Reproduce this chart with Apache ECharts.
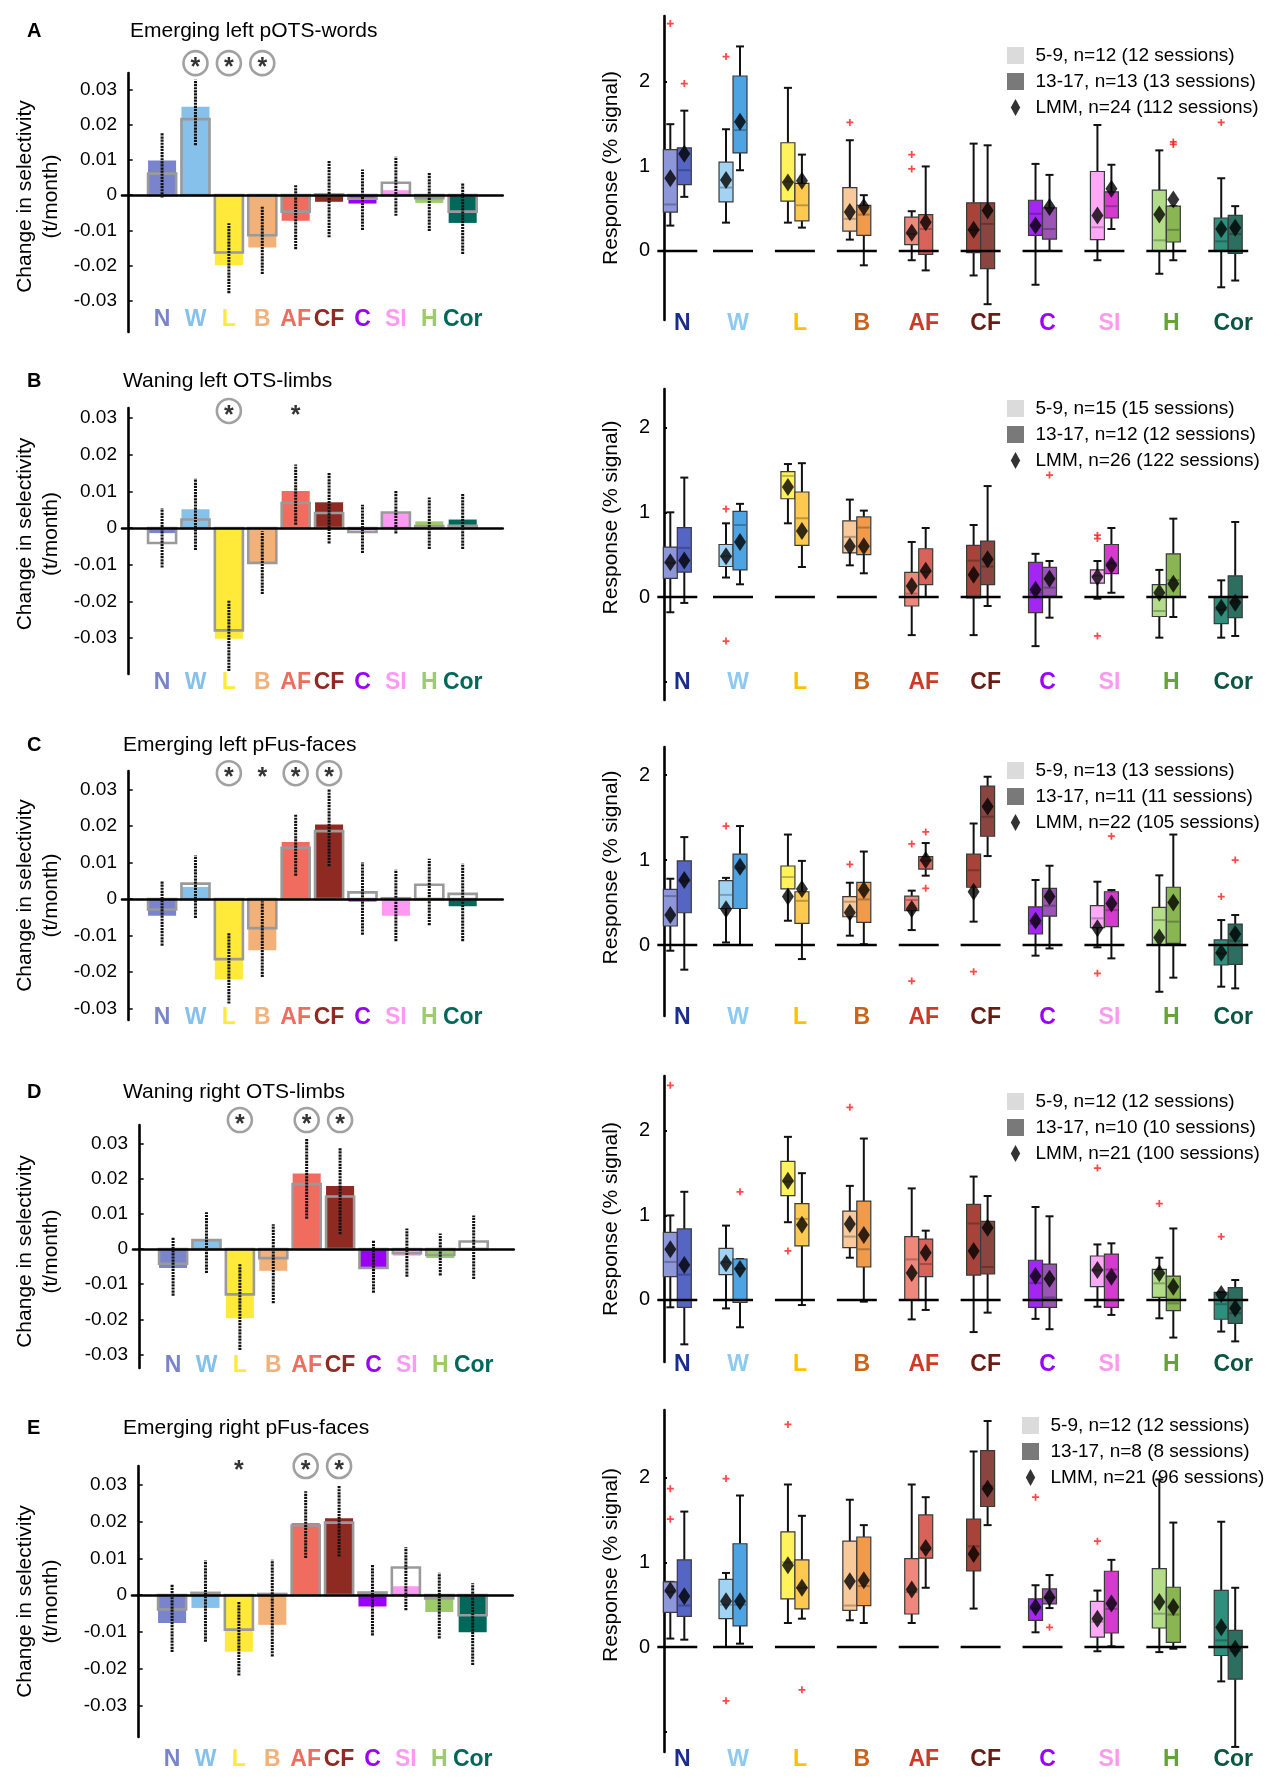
<!DOCTYPE html>
<html>
<head>
<meta charset="utf-8">
<script src="https://cdn.jsdelivr.net/npm/echarts/dist/echarts.min.js"></script>
<style>
html,body{margin:0;padding:0;background:#fff;}
.row{position:absolute;left:0;top:0;width:1280px;height:1778px;}
</style>
</head>
<body>
<div id="r0" class="row"></div>
<div id="r1" class="row"></div>
<div id="r2" class="row"></div>
<div id="r3" class="row"></div>
<div id="r4" class="row"></div>
<script>
// ---------------- DATA ----------------
const categories = ['N','W','L','B','AF','CF','C','SI','H','Cor'];
const selectivityTicks = [-0.03,-0.02,-0.01,0,0.01,0.02,0.03];
const responseTicks = [-1,0,1,2];
const responseLabels = [0,1,2];

const titles = ['Emerging left pOTS-words','Waning left OTS-limbs','Emerging left pFus-faces','Waning right OTS-limbs','Emerging right pFus-faces'];
const letters = ['A','B','C','D','E'];

// left: change in selectivity (t/month)
const fillA    = [0.0098, 0.0251, -0.0199, -0.0149, -0.0073, -0.0019, -0.0024, 0.0014, -0.0022, -0.0079];
const outlineA = [0.0061, 0.0216, -0.0163, -0.0114, -0.0047, 0.0002, -0.0010, 0.0035, -0.0009, -0.0047];
const dotLoA   = [-0.0007, 0.0142, -0.0279, -0.0224, -0.0154, -0.0120, -0.0099, -0.0059, -0.0102, -0.0167];
const dotHiA   = [0.0177, 0.0328, -0.0080, -0.0031, 0.0028, 0.0097, 0.0073, 0.0109, 0.0063, 0.0033];
const sigA     = [0,2,2,2,0,0,0,0,0,0];

const fillB    = [-0.0014, 0.0051, -0.0302, -0.0097, 0.0101, 0.0070, -0.0006, 0.0042, 0.0018, 0.0023];
const outlineB = [-0.0041, 0.0023, -0.0279, -0.0095, 0.0068, 0.0041, -0.0011, 0.0042, 0.0005, 0.0006];
const dotLoB   = [-0.0108, -0.0060, -0.0390, -0.0180, 0.0009, -0.0042, -0.0068, -0.0015, -0.0057, -0.0057];
const dotHiB   = [0.0054, 0.0135, -0.0198, -0.0009, 0.0173, 0.0150, 0.0063, 0.0102, 0.0083, 0.0095];
const sigB     = [0,0,2,0,1,0,0,0,0,0];

const fillC    = [-0.0046, 0.0033, -0.0221, -0.0141, 0.0156, 0.0204, -0.0007, -0.0046, 0.0003, -0.0020];
const outlineC = [-0.0029, 0.0042, -0.0165, -0.0080, 0.0140, 0.0186, 0.0018, 0.0002, 0.0039, 0.0014];
const dotLoC   = [-0.0128, -0.0052, -0.0287, -0.0214, 0.0064, 0.0090, -0.0098, -0.0116, -0.0072, -0.0116];
const dotHiC   = [0.0048, 0.0119, -0.0091, -0.0006, 0.0231, 0.0300, 0.0100, 0.0080, 0.0110, 0.0097];
const sigC     = [0,0,2,1,2,2,0,0,0,0];

const fillD    = [-0.0054, 0.0025, -0.0197, -0.0062, 0.0214, 0.0179, -0.0051, -0.0019, -0.0026, 0.0003];
const outlineD = [-0.0042, 0.0025, -0.0129, -0.0026, 0.0184, 0.0149, -0.0054, -0.0012, -0.0017, 0.0021];
const dotLoD   = [-0.0133, -0.0068, -0.0287, -0.0154, 0.0086, 0.0042, -0.0124, -0.0079, -0.0075, -0.0085];
const dotHiD   = [0.0032, 0.0104, -0.0042, 0.0070, 0.0314, 0.0288, 0.0025, 0.0058, 0.0044, 0.0095];
const sigD     = [0,0,2,0,2,2,0,0,0,0];

const fillE    = [-0.0076, -0.0035, -0.0154, -0.0081, 0.0196, 0.0209, -0.0031, 0.0024, -0.0046, -0.0101];
const outlineE = [-0.0039, 0.0006, -0.0094, 0.0003, 0.0189, 0.0197, 0.0007, 0.0075, -0.0009, -0.0055];
const dotLoE   = [-0.0155, -0.0127, -0.0219, -0.0167, 0.0101, 0.0105, -0.0110, -0.0041, -0.0118, -0.0190];
const dotHiE   = [0.0028, 0.0094, -0.0018, 0.0096, 0.0282, 0.0298, 0.0083, 0.0130, 0.0061, 0.0032];
const sigE     = [0,0,1,0,2,2,0,0,0,0];

// right: response (% signal) boxes [low whisker, q1, median, q3, high whisker]
const boxYoungA = [[0.30,0.46,0.55,1.20,1.50],[0.335,0.58,0.75,1.05,1.44],[0.335,0.59,0.82,1.28,1.93],[0.134,0.235,0.38,0.75,1.31],[-0.11,0.075,0.20,0.40,0.47],[-0.29,-0.02,0.25,0.57,1.27],[-0.40,0.185,0.44,0.60,1.03],[-0.11,0.134,0.28,0.94,1.49],[-0.27,0.0,0.126,0.72,1.19],[-0.43,0.0,0.114,0.39,0.86]];
const boxTeenA  = [[0.64,0.785,0.955,1.22,1.66],[0.955,1.16,1.43,2.07,2.42],[0.276,0.355,0.54,0.80,1.14],[-0.17,0.185,0.43,0.54,0.66],[-0.23,-0.04,0.26,0.43,1.0],[-0.63,-0.21,0.32,0.57,1.25],[0.0,0.14,0.26,0.51,0.90],[0.26,0.39,0.53,0.70,1.02],[-0.11,0.106,0.25,0.53,0.53],[-0.35,-0.03,0.20,0.42,0.53]];
const lmmYoungA = [0.86,0.84,0.81,0.46,0.216,0.25,0.30,0.42,0.43,0.26];
const lmmTeenA  = [1.15,1.53,0.83,0.52,0.34,0.48,0.52,0.735,0.61,0.275];
const outliersA = [[0,0,2.69],[0,1,1.98],[1,0,2.30],[3,0,1.52],[4,0,1.14],[4,0,0.97],[8,1,1.29],[8,1,1.26],[9,0,1.52]];

const boxYoungB = [[-0.18,0.22,0.40,0.59,1.0],[0.23,0.36,0.48,0.62,0.87],[0.87,1.16,1.43,1.48,1.57],[0.374,0.52,0.71,0.90,1.15],[-0.45,-0.106,0.04,0.29,0.65],[-0.45,-0.01,0.43,0.61,0.85],[-0.58,-0.185,0.05,0.41,0.51],[-0.02,0.165,0.25,0.32,0.425],[-0.48,-0.23,-0.165,0.146,0.32],[-0.48,-0.315,-0.15,0.0,0.197]];
const boxTeenB  = [[-0.07,0.295,0.58,0.82,1.41],[0.15,0.32,0.85,1.01,1.10],[0.354,0.61,0.93,1.24,1.58],[0.28,0.50,0.82,0.945,1.02],[0.0,0.146,0.295,0.57,0.815],[-0.106,0.146,0.36,0.66,1.31],[-0.244,0.008,0.11,0.35,0.425],[0.05,0.276,0.40,0.62,0.815],[-0.236,0.0,0.2,0.51,0.925],[-0.46,-0.244,-0.05,0.25,0.886]];
const lmmYoungB = [0.41,0.48,1.30,0.60,0.13,0.264,0.087,0.236,0.05,-0.126];
const lmmTeenB  = [0.43,0.65,0.78,0.60,0.31,0.445,0.217,0.374,0.157,-0.067];
const outliersB = [[1,0,1.04],[1,0,-0.52],[6,1,1.44],[7,0,0.73],[7,0,0.69],[7,0,-0.46]];

const boxYoungC = [[-0.067,0.224,0.576,0.655,0.78],[0.03,0.43,0.59,0.757,0.79],[0.286,0.66,0.80,0.93,1.30],[0.11,0.333,0.51,0.57,0.733],[0.176,0.404,0.53,0.576,0.64],[0.275,0.68,0.88,1.07,1.43],[-0.125,0.13,0.25,0.45,0.765],[-0.027,0.204,0.314,0.463,0.745],[-0.55,0.0,0.294,0.443,0.82],[-0.49,-0.235,-0.1,0.06,0.294]];
const boxTeenC  = [[-0.29,0.38,0.75,0.99,1.27],[0.0,0.43,0.9,1.07,1.40],[-0.165,0.255,0.52,0.627,0.99],[0.01,0.267,0.537,0.737,1.10],[0.816,0.894,0.99,1.04,1.20],[1.047,1.28,1.51,1.87,1.98],[-0.04,0.34,0.463,0.667,0.933],[-0.157,0.216,0.41,0.627,0.647],[-0.384,0.02,0.275,0.68,1.30],[-0.51,-0.227,0.05,0.247,0.353]];
const lmmYoungC = [0.353,0.42,0.57,0.384,0.424,0.627,0.286,0.196,0.09,-0.09];
const lmmTeenC  = [0.765,0.92,0.66,0.647,1.0,1.63,0.57,0.49,0.50,0.13];
const outliersC = [[1,0,1.40],[3,0,0.95],[4,0,1.19],[4,0,-0.424],[4,1,1.33],[4,1,0.667],[5,0,-0.314],[7,0,-0.333],[7,1,1.28],[9,0,0.57],[9,1,1.0]];

const boxYoungD = [[-0.087,0.276,0.45,0.80,1.0],[-0.1,0.30,0.45,0.61,0.88],[0.92,1.235,1.40,1.64,1.93],[0.5,0.62,0.75,1.05,1.35],[-0.23,0.0,0.48,0.75,1.32],[-0.38,0.295,0.905,1.13,1.46],[-0.224,-0.087,0.2,0.47,1.10],[-0.08,0.157,0.35,0.52,0.657],[-0.217,0.03,0.197,0.362,0.50],[-0.374,-0.228,-0.05,0.09,0.09]];
const boxTeenD  = [[-0.525,-0.087,0.3,0.84,1.28],[-0.323,-0.03,0.375,0.485,0.485],[-0.06,0.64,0.96,1.14,1.50],[-0.02,0.39,0.60,1.17,1.91],[-0.118,0.276,0.425,0.72,0.82],[-0.15,0.307,0.39,0.93,1.23],[-0.346,-0.087,0.03,0.425,0.99],[-0.177,-0.087,0.36,0.543,0.67],[-0.445,-0.126,-0.04,0.283,0.846],[-0.49,-0.276,-0.157,0.146,0.236]];
const lmmYoungD = [0.60,0.434,1.41,0.90,0.32,0.58,0.283,0.354,0.315,0.071];
const lmmTeenD  = [0.414,0.367,0.89,0.77,0.56,0.854,0.25,0.276,0.157,-0.098];
const outliersD = [[0,0,2.54],[1,1,1.28],[2,0,0.58],[3,0,2.28],[7,0,1.56],[8,0,1.14],[9,0,0.75]];

const boxYoungE = [[0.1,0.41,0.65,0.77,0.77],[0.0,0.335,0.5,0.80,0.875],[0.284,0.568,1.0,1.36,1.92],[0.316,0.434,0.49,1.25,1.74],[0.284,0.39,0.65,1.045,1.92],[0.454,0.90,1.19,1.51,2.31],[0.174,0.316,0.45,0.57,0.73],[-0.05,0.118,0.3,0.54,0.667],[-0.06,0.225,0.394,0.927,1.98],[-0.406,-0.1,0.079,0.67,1.48]];
const boxTeenE  = [[0.087,0.363,0.49,1.03,1.60],[0.04,0.25,0.50,1.22,1.79],[0.335,0.45,0.7,1.03,1.55],[0.284,0.49,0.72,1.30,1.44],[0.70,1.05,1.15,1.56,1.77],[1.44,1.66,1.9,2.32,2.67],[0.46,0.51,0.58,0.686,0.85],[0.008,0.166,0.45,0.895,1.03],[-0.02,0.055,0.383,0.706,1.47],[-1.18,-0.38,-0.05,0.197,0.70]];
const lmmYoungE = [0.667,0.54,0.966,0.777,0.68,1.10,0.473,0.335,0.533,0.233];
const lmmTeenE  = [0.60,0.54,0.70,0.79,1.17,1.87,0.588,0.513,0.473,-0.02];
const outliersE = [[0,0,1.87],[0,0,1.51],[1,0,1.99],[1,0,-0.635],[2,0,2.63],[2,1,-0.505],[6,0,1.77],[6,1,0.233],[7,0,1.25]];

const legendA = ['5-9, n=12 (12 sessions)','13-17, n=13 (13 sessions)','LMM, n=24 (112 sessions)'];
const legendB = ['5-9, n=15 (15 sessions)','13-17, n=12 (12 sessions)','LMM, n=26 (122 sessions)'];
const legendC = ['5-9, n=13 (13 sessions)','13-17, n=11 (11 sessions)','LMM, n=22 (105 sessions)'];
const legendD = ['5-9, n=12 (12 sessions)','13-17, n=10 (10 sessions)','LMM, n=21 (100 sessions)'];
const legendE = ['5-9, n=12 (12 sessions)','13-17, n=8 (8 sessions)','LMM, n=21 (96 sessions)'];

// ---------------- STYLE / LAYOUT ----------------
const FONT = '"Liberation Sans", Arial, Helvetica, sans-serif';
const NARROW = '"Liberation Sans Narrow", "Liberation Sans", Arial, sans-serif';
const leftColors  = ['#7a84cc','#85c1ea','#ffea3a','#f2b179','#ef6c5f','#8f2a22','#9a00f6','#ff99f3','#9ccc6a','#00685a'];
const rightLabelColors = ['#1a2d8c','#8ec9f0','#ffc000','#cc6318','#cc3a2a','#6b1c12','#9b00ff','#ff99ef','#66a23a','#0b5543'];
const youngColors = ['#8c96d8','#a3d3f3','#fff25a','#f8c99a','#f0877c','#a8433b','#a326f5','#ffa8f8','#b2dc8a','#2e8f7c'];
const teenColors  = ['#5565c3','#4ea3e3','#fdc94f','#f09a4a','#d9635a','#8b4540','#9a55b5','#d43ccc','#8ab553','#2c6e5f'];

const leftLayout = [
  {gl:122, gt:73,   gb:332,  ymin:-0.0389, ymax:0.0347, sigY:0.0375, lblMargin:-24, nameGap:58, nameShift:6,  titleTop:21,   titleLeft:130},
  {gl:122, gt:408,  gb:674,  ymin:-0.0398, ymax:0.0327, sigY:0.0319, lblMargin:-3,  nameGap:58, nameShift:7,  titleTop:371,  titleLeft:123},
  {gl:122, gt:771,  gb:1020, ymin:-0.0332, ymax:0.0351, sigY:0.0345, lblMargin:-14, nameGap:58, nameShift:0,  titleTop:735,  titleLeft:123},
  {gl:133, gt:1125, gb:1368, ymin:-0.0338, ymax:0.0352, sigY:0.0366, lblMargin:-14, nameGap:69, nameShift:-5, titleTop:1082, titleLeft:123},
  {gl:132, gt:1466, gb:1737, ymin:-0.0386, ymax:0.0351, sigY:0.0351, lblMargin:11,  nameGap:68, nameShift:0,  titleTop:1418, titleLeft:123}
];
const rightLayout = [
  {gt:16,   gb:320,  ymin:-0.817, ymax:2.78,  lblMargin:-8,  nameShift:0,  legLeft:1002, legTop:41},
  {gt:389,  gb:700,  ymin:-1.216, ymax:2.456, lblMargin:-29, nameShift:27, legLeft:1002, legTop:394},
  {gt:747,  gb:1016, ymin:-0.835, ymax:2.33,  lblMargin:-10, nameShift:14, legLeft:1002, legTop:756},
  {gt:1076, gb:1362, ymin:-0.734, ymax:2.65,  lblMargin:-9,  nameShift:0,  legLeft:1002, legTop:1087},
  {gt:1410, gb:1752, ymin:-1.24,  ymax:2.80,  lblMargin:-4,  nameShift:16, legLeft:1017, legTop:1411}
];
const LEFT_XMIN = -0.2, LEFT_XMAX = 11.2, LEFT_UNIT = 33.4;
const BAR_HALF = 0.42;
const RIGHT_GL = 664, RIGHT_XMIN = 0.885, RIGHT_XMAX = 10.6, RIGHT_UNIT = 61.9;
const RIGHT_POS = [1.1,2,3,4,5,6,7,8,9,10];
const BOX_OFF = 0.113, BOX_W = 0.226, ZERO_HALF = 0.323;
const SQUARE = 'path://M0,0H10V10H0Z';
const DIAMOND = 'path://M5,0L10,9L5,18L0,9Z';
const PLUS = 'path://M3,0H5V3H8V5H5V8H3V5H0V3H3Z';

const panels = [
  {fill:fillA, outline:outlineA, lo:dotLoA, hi:dotHiA, sig:sigA, young:boxYoungA, teen:boxTeenA, lmmY:lmmYoungA, lmmT:lmmTeenA, out:outliersA, legend:legendA},
  {fill:fillB, outline:outlineB, lo:dotLoB, hi:dotHiB, sig:sigB, young:boxYoungB, teen:boxTeenB, lmmY:lmmYoungB, lmmT:lmmTeenB, out:outliersB, legend:legendB},
  {fill:fillC, outline:outlineC, lo:dotLoC, hi:dotHiC, sig:sigC, young:boxYoungC, teen:boxTeenC, lmmY:lmmYoungC, lmmT:lmmTeenC, out:outliersC, legend:legendC},
  {fill:fillD, outline:outlineD, lo:dotLoD, hi:dotHiD, sig:sigD, young:boxYoungD, teen:boxTeenD, lmmY:lmmYoungD, lmmT:lmmTeenD, out:outliersD, legend:legendD},
  {fill:fillE, outline:outlineE, lo:dotLoE, hi:dotHiE, sig:sigE, young:boxYoungE, teen:boxTeenE, lmmY:lmmYoungE, lmmT:lmmTeenE, out:outliersE, legend:legendE}
];

function rich(colors, size, pad) {
  const r = {};
  categories.forEach((c, i) => {
    r['c' + i] = {color: colors[i], fontSize: size, fontWeight: 'bold', fontFamily: NARROW, padding: pad};
  });
  return r;
}
function namePad(shift) {
  return [0, shift < 0 ? -2 * shift : 0, 0, shift > 0 ? 2 * shift : 0];
}

function barRender(stroke) {
  return function (params, api) {
    const x = api.value(0), v = api.value(1), ci = api.value(2);
    const p0 = api.coord([x - BAR_HALF, 0]);
    const p1 = api.coord([x + BAR_HALF, v]);
    const style = stroke
      ? {fill: 'none', stroke: '#9a9a9a', lineWidth: 2.6}
      : {fill: leftColors[ci]};
    return {type: 'rect', shape: {x: p0[0], y: Math.min(p0[1], p1[1]), width: p1[0] - p0[0], height: Math.abs(p1[1] - p0[1])}, style: style};
  };
}
function dotsRender(params, api) {
  const x = api.value(0);
  const a = api.coord([x, api.value(1)]);
  const b = api.coord([x, api.value(2)]);
  return {type: 'line', shape: {x1: a[0], y1: a[1], x2: b[0], y2: b[1]}, style: {stroke: '#111', lineWidth: 3, lineDash: [2.2, 0.9]}};
}
function boxRender(colors) {
  return function (params, api) {
    const x = api.value(0);
    const y = k => api.coord([x, api.value(k)])[1];
    const lo = y(1), q1 = y(2), md = y(3), q3 = y(4), hi = y(5);
    const cx = api.coord([x, 0])[0];
    const w = api.size([BOX_W, 0])[0];
    const ci = api.value(6);
    const cap = 4;
    const ln = {stroke: '#111', lineWidth: 2};
    return {type: 'group', children: [
      {type: 'line', shape: {x1: cx, y1: lo, x2: cx, y2: q1}, style: ln},
      {type: 'line', shape: {x1: cx, y1: q3, x2: cx, y2: hi}, style: ln},
      {type: 'line', shape: {x1: cx - cap, y1: lo, x2: cx + cap, y2: lo}, style: ln},
      {type: 'line', shape: {x1: cx - cap, y1: hi, x2: cx + cap, y2: hi}, style: ln},
      {type: 'rect', shape: {x: cx - w / 2, y: q3, width: w, height: q1 - q3}, style: {fill: colors[ci], stroke: '#3a3a3a', lineWidth: 1.2}},
      {type: 'line', shape: {x1: cx - w / 2 + 1, y1: md, x2: cx + w / 2 - 1, y2: md}, style: {stroke: 'rgba(0,0,0,0.25)', lineWidth: 2}}
    ]};
  };
}
function zeroRender(params, api) {
  const x = api.value(0);
  const a = api.coord([x - ZERO_HALF, 0]);
  const b = api.coord([x + ZERO_HALF, 0]);
  return {type: 'line', shape: {x1: a[0], y1: a[1], x2: b[0], y2: b[1]}, style: {stroke: '#000', lineWidth: 2.6}};
}

function buildOption(k) {
  const L = leftLayout[k], R = rightLayout[k], P = panels[k];
  const leftW = (LEFT_XMAX - LEFT_XMIN) * LEFT_UNIT;
  const rightW = (RIGHT_XMAX - RIGHT_XMIN) * RIGHT_UNIT;
  const rTicks = responseTicks.filter(v => v >= R.ymin && v <= R.ymax);
  const catIdx = v => RIGHT_POS.findIndex(p => Math.abs(p - v) < 1e-6);
  const starData = [];
  P.sig.forEach((s, i) => {
    if (!s) return;
    starData.push({
      value: [i + 1, L.sigY],
      symbol: 'circle',
      symbolSize: s === 2 ? 24 : 2,
      itemStyle: s === 2 ? {color: '#fff', borderColor: '#8a8a8a', borderWidth: 2.6} : {color: 'rgba(0,0,0,0)', borderWidth: 0}
    });
  });
  return {
    animation: false,
    title: [
      {text: letters[k], left: 27, top: L.titleTop, padding: 0, textStyle: {fontFamily: FONT, fontSize: 20, fontWeight: 'bold', color: '#000'}},
      {text: titles[k], left: L.titleLeft, top: L.titleTop, padding: 0, textStyle: {fontFamily: FONT, fontSize: 21, fontWeight: 'normal', color: '#000'}}
    ],
    legend: {
      left: R.legLeft, top: R.legTop, orient: 'vertical', selectedMode: false,
      itemWidth: 30, itemHeight: 17, itemGap: 7, symbolKeepAspect: true,
      textStyle: {fontFamily: FONT, fontSize: 19, color: '#000'},
      data: [
        {name: P.legend[0], icon: SQUARE},
        {name: P.legend[1], icon: SQUARE},
        {name: P.legend[2], icon: DIAMOND}
      ]
    },
    grid: [
      {left: L.gl, top: L.gt, width: leftW, height: L.gb - L.gt},
      {left: RIGHT_GL, top: R.gt, width: rightW, height: R.gb - R.gt}
    ],
    xAxis: [
      {gridIndex: 0, type: 'value', min: LEFT_XMIN, max: LEFT_XMAX, position: 'bottom', z: 4,
       axisLine: {onZero: true, lineStyle: {color: '#000', width: 2.6}}, axisTick: {show: false}, axisLabel: {show: false}, splitLine: {show: false}},
      {gridIndex: 0, type: 'value', min: LEFT_XMIN, max: LEFT_XMAX, position: 'bottom',
       axisLine: {show: false, onZero: false}, axisTick: {show: false}, splitLine: {show: false},
       axisLabel: {customValues: categories.map((c, i) => i + 1), margin: L.lblMargin,
         formatter: v => { const i = Math.round(v) - 1; return '{c' + i + '|' + categories[i] + '}'; },
         rich: rich(leftColors, 23, 0)}},
      {gridIndex: 1, type: 'value', min: RIGHT_XMIN, max: RIGHT_XMAX, position: 'bottom',
       axisLine: {show: false, onZero: false}, axisTick: {show: false}, splitLine: {show: false},
       axisLabel: {customValues: RIGHT_POS, margin: R.lblMargin,
         formatter: v => { const i = catIdx(v); return '{c' + i + '|' + categories[i] + '}'; },
         rich: rich(rightLabelColors, 23, [0, 0, 0, 10])}}
    ],
    yAxis: [
      {gridIndex: 0, type: 'value', min: L.ymin, max: L.ymax,
       axisLine: {show: true, lineStyle: {color: '#000', width: 2.6}},
       axisTick: {show: true, inside: true, length: 4, customValues: selectivityTicks, lineStyle: {color: '#000', width: 1.5}},
       axisLabel: {customValues: selectivityTicks, margin: 5, fontFamily: FONT, fontSize: 19, color: '#000',
         formatter: v => Math.abs(v) < 1e-9 ? '0' : v.toFixed(2)},
       splitLine: {show: false},
       name: 'Change in selectivity\n(t/month)', nameLocation: 'middle', nameRotate: 90, nameGap: L.nameGap,
       nameTextStyle: {fontFamily: FONT, fontSize: 21, lineHeight: 26, color: '#000', padding: namePad(L.nameShift)}},
      {gridIndex: 1, type: 'value', min: R.ymin, max: R.ymax,
       axisLine: {show: true, lineStyle: {color: '#000', width: 2.6}},
       axisTick: {show: true, inside: true, length: 3, customValues: rTicks, lineStyle: {color: '#000', width: 2}},
       axisLabel: {customValues: responseLabels, margin: 14, fontFamily: FONT, fontSize: 20, color: '#000',
         formatter: v => String(Math.round(v))},
       splitLine: {show: false},
       name: 'Response (% signal)', nameLocation: 'middle', nameRotate: 90, nameGap: 42,
       nameTextStyle: {fontFamily: FONT, fontSize: 21, color: '#000', padding: namePad(R.nameShift)}}
    ],
    series: [
      // left panel
      {type: 'custom', xAxisIndex: 0, yAxisIndex: 0, z: 2, silent: true, renderItem: barRender(false),
       data: P.fill.map((v, i) => [i + 1, v, i])},
      {type: 'custom', xAxisIndex: 0, yAxisIndex: 0, z: 3, silent: true, renderItem: barRender(true),
       data: P.outline.map((v, i) => [i + 1, v, i])},
      {type: 'custom', xAxisIndex: 0, yAxisIndex: 0, z: 5, silent: true, renderItem: dotsRender,
       data: P.lo.map((v, i) => [i + 1, v, P.hi[i]])},
      {type: 'scatter', xAxisIndex: 0, yAxisIndex: 0, z: 6, silent: true, clip: false, data: starData,
       label: {show: true, position: 'inside', formatter: '*', fontFamily: FONT, fontSize: 25, fontWeight: 'bold', color: '#000', offset: [0, 5]}},
      // right panel
      {type: 'custom', xAxisIndex: 2, yAxisIndex: 1, z: 2, silent: true, renderItem: boxRender(youngColors),
       data: P.young.map((b, i) => [RIGHT_POS[i] - BOX_OFF].concat(b, [i]))},
      {type: 'custom', xAxisIndex: 2, yAxisIndex: 1, z: 2, silent: true, renderItem: boxRender(teenColors),
       data: P.teen.map((b, i) => [RIGHT_POS[i] + BOX_OFF].concat(b, [i]))},
      {type: 'custom', xAxisIndex: 2, yAxisIndex: 1, z: 4, silent: true, renderItem: zeroRender,
       data: RIGHT_POS.map(x => [x, 0])},
      {type: 'scatter', name: P.legend[2], xAxisIndex: 2, yAxisIndex: 1, z: 6, silent: true,
       symbol: DIAMOND, symbolSize: [12, 18], itemStyle: {color: '#000'},
       data: P.lmmY.map((v, i) => [RIGHT_POS[i] - BOX_OFF, v])},
      {type: 'scatter', name: P.legend[2], xAxisIndex: 2, yAxisIndex: 1, z: 6, silent: true,
       symbol: DIAMOND, symbolSize: [12, 18], itemStyle: {color: '#000'},
       data: P.lmmT.map((v, i) => [RIGHT_POS[i] + BOX_OFF, v])},
      {type: 'scatter', xAxisIndex: 2, yAxisIndex: 1, z: 6, silent: true, clip: false,
       symbol: PLUS, symbolSize: 7, itemStyle: {color: '#ff1a1a'},
       data: P.out.map(o => [RIGHT_POS[o[0]] + (o[1] ? BOX_OFF : -BOX_OFF), o[2]])},
      // legend entries for the two age groups
      {type: 'scatter', name: P.legend[0], xAxisIndex: 2, yAxisIndex: 1, data: [], itemStyle: {color: '#d2d2d2'}},
      {type: 'scatter', name: P.legend[1], xAxisIndex: 2, yAxisIndex: 1, data: [], itemStyle: {color: '#585858'}}
    ]
  };
}

for (let k = 0; k < 5; k++) {
  const chart = echarts.init(document.getElementById('r' + k), null, {renderer: 'canvas'});
  chart.setOption(buildOption(k));
}
</script>
</body>
</html>
